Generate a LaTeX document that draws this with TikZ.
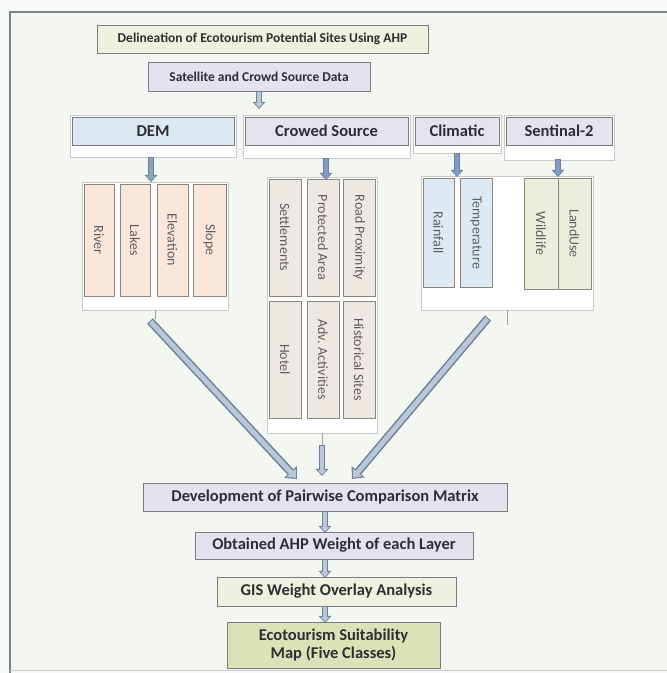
\documentclass[tikz,border=0pt]{standalone}
\usepackage{fontspec}
\setmainfont{Carlito}
\usetikzlibrary{arrows.meta}
\definecolor{outerbg}{HTML}{F7FAF9}
\definecolor{innerbg}{HTML}{F4F7F1}
\definecolor{framecol}{HTML}{7C8482}
\definecolor{boxedge}{HTML}{7A7A80}
\definecolor{txt}{HTML}{2E2E32}
\definecolor{titlefill}{HTML}{EEF1E0}
\definecolor{lav}{HTML}{E5E2EF}
\definecolor{demfill}{HTML}{DCE8F2}
\definecolor{hdrfill}{HTML}{E3E4F0}
\definecolor{ecofill}{HTML}{DCE2B8}
\definecolor{peach}{HTML}{FBE6DA}
\definecolor{beige}{HTML}{ECE9E3}
\definecolor{ltblue}{HTML}{DDEAF4}
\definecolor{ltgreen}{HTML}{ECEEDC}
\definecolor{childedge}{HTML}{8A857E}
\definecolor{childtxt}{HTML}{5E5E5E}
\definecolor{underedge}{HTML}{C8CAC8}
\definecolor{arredge}{HTML}{6C8098}
\definecolor{arrfill}{HTML}{B9C7D6}
\definecolor{arrsolid}{HTML}{8CA3BE}
\definecolor{arrblue}{HTML}{7E9CC6}
\tikzset{
  box/.style={draw=boxedge, line width=1pt, inner sep=0pt, text=txt,
    font=\bfseries\fontsize{16.5}{18}\selectfont},
  smallbox/.style={box, font=\bfseries\fontsize{13.5}{15}\selectfont},
  child/.style={draw=childedge, line width=1pt, inner sep=0pt, rotate=-90,
    text=childtxt, font=\fontsize{14}{15}\selectfont},
  under/.style={draw=underedge, fill=white, line width=0.7pt, inner sep=0pt},
  tickline/.style={draw=underedge!80!black, line width=0.7pt},
  barrow/.style={draw=arredge, line width=#1, -{Triangle[length=1.2*#1,width=2.1*#1]}},
  bigarrow/.style={barrow=8pt, postaction={draw=arrfill, line width=5pt,
    shorten >=1.6pt, shorten <=1pt, -{Triangle[length=7pt,width=12pt]}}},
  smallarrow/.style={barrow=6pt, postaction={draw=arrfill, line width=3.4pt,
    shorten >=1.4pt, shorten <=0.9pt, -{Triangle[length=4.6pt,width=8.6pt]}}},
  solidarrow/.style={barrow=6pt, postaction={draw=#1, line width=3.6pt,
    shorten >=1.2pt, shorten <=0.8pt, -{Triangle[length=5pt,width=9.2pt]}}}
}
\begin{document}
\begin{tikzpicture}[x=1pt,y=-1pt]
\useasboundingbox (0,0) rectangle (667,673);
\fill[outerbg] (0,0) rectangle (667,673);
\fill[innerbg] (10,12) rectangle (667,670);
\draw[framecol, line width=2pt] (10,673) -- (10,12) -- (667,12);
\draw[underedge, line width=0.8pt] (10,670) -- (667,670);

% top boxes
\node[smallbox, fill=titlefill, minimum width=331pt, minimum height=28pt] (title) at (262.5,39) {Delineation of Ecotourism Potential Sites Using AHP};
\node[smallbox, fill=lav, minimum width=222pt, minimum height=29pt] (sat) at (259,76.5) {Satellite and Crowd Source Data};
\coordinate (satend) at (259,109);
\draw[smallarrow] (sat.south) -- (satend);

% header underlays
\node[under, minimum width=166pt, minimum height=42pt] (demu) at (153,136) {};
\node[under, minimum width=167pt, minimum height=43pt] (crowdu) at (326.5,136.5) {};
\node[under, minimum width=88pt, minimum height=38pt] (climu) at (457,134) {};
\node[under, minimum width=110pt, minimum height=45pt] (sentu) at (559,137.5) {};
% headers
\node[box, fill=demfill, minimum width=162pt, minimum height=28pt] (dem) at (153,131) {DEM};
\node[box, fill=hdrfill, minimum width=163pt, minimum height=28pt] (crowd) at (326.5,131) {Crowed Source};
\node[box, fill=hdrfill, minimum width=84pt, minimum height=28pt] (clim) at (457,131) {Climatic};
\node[box, fill=hdrfill, minimum width=106pt, minimum height=28pt] (sent) at (559,131) {Sentinal-2};

% children underlays
\node[under, minimum width=146pt, minimum height=128pt] (demk) at (155,246) {};
\node[under, minimum width=110pt, minimum height=256pt] (crowdk) at (322,305) {};
\node[under, minimum width=172pt, minimum height=134pt] (csk) at (507,243) {};

% DEM children
\node[child, fill=peach, minimum width=112pt, minimum height=30pt] (river) at (99,240) {River};
\node[child, fill=peach, minimum width=112pt, minimum height=30pt] (lakes) at (135,240) {Lakes};
\node[child, fill=peach, minimum width=112pt, minimum height=31pt] (elev) at (172.5,240) {Elevation};
\node[child, fill=peach, minimum width=112pt, minimum height=33pt] (slope) at (209.5,240) {Slope};
% Crowd children
\node[child, fill=beige, minimum width=117pt, minimum height=32pt] (settl) at (285,237.5) {Settlements};
\node[child, fill=beige, minimum width=117pt, minimum height=32pt] (prot) at (323,237.5) {Protected Area};
\node[child, fill=beige, minimum width=117pt, minimum height=32pt] (road) at (359,237.5) {Road Proximity};
\node[child, fill=beige, minimum width=117pt, minimum height=32pt] (hotel) at (285,359.5) {Hotel};
\node[child, fill=beige, minimum width=117pt, minimum height=32pt] (adv) at (323,359.5) {Adv. Activities};
\node[child, fill=beige, minimum width=117pt, minimum height=32pt] (hist) at (359,359.5) {Historical Sites};
% Climatic children
\node[child, fill=ltblue, minimum width=109pt, minimum height=31pt] (rain) at (438.5,232.5) {Rainfall};
\node[child, fill=ltblue, minimum width=109pt, minimum height=32pt] (temp) at (476,232.5) {Temperature};
% Sentinel children
\node[child, fill=ltgreen, minimum width=111pt, minimum height=34pt] (wild) at (541,233.5) {Wildlife};
\node[child, fill=ltgreen, minimum width=111pt, minimum height=33pt] (land) at (574.5,233.5) {LandUse};

% arrows from headers to children
\coordinate (demA) at (151,157); \coordinate (demB) at (151,182);
\draw[solidarrow=arrsolid] (demA) -- (demB);
\coordinate (crA) at (326,158); \coordinate (crB) at (326,180);
\draw[solidarrow=arrblue] (crA) -- (crB);
\coordinate (clA) at (457,153); \coordinate (clB) at (457,177);
\draw[solidarrow=arrblue] (clA) -- (clB);
\coordinate (seA) at (558,159); \coordinate (seB) at (558,177);
\draw[solidarrow=arrblue] (seA) -- (seB);

% ticks
\coordinate (demtick) at (155,319);
\draw[tickline] (demk.south) -- (demtick);
\coordinate (crowdtick) at (322,445);
\draw[tickline] (crowdk.south) -- (crowdtick);
\coordinate (cstick) at (507,325);
\draw[tickline] (csk.south) -- (cstick);

% bottom boxes
\node[box, fill=lav, minimum width=364pt, minimum height=28pt] (dev) at (325,497) {Development of Pairwise Comparison Matrix};
\node[box, fill=lav, minimum width=278pt, minimum height=27pt] (obt) at (334,545.5) {Obtained AHP Weight of each Layer};
\node[box, fill=titlefill, minimum width=239pt, minimum height=29pt] (gis) at (336.5,591.5) {GIS Weight Overlay Analysis};
\node[box, fill=ecofill, minimum width=213pt, minimum height=46pt, align=center, font=\bfseries\fontsize{16.5}{18}\selectfont] (eco) at (333.5,645) {Ecotourism Suitability\\Map (Five Classes)};

% big arrows
\coordinate (lA) at (150,321); \coordinate (lB) at (297,479);
\draw[bigarrow] (lA) -- (lB);
\coordinate (rA) at (488,318); \coordinate (rB) at (352,479);
\draw[bigarrow] (rA) -- (rB);
\coordinate (mB) at (322,476);
\draw[smallarrow] (crowdtick) -- (mB);

% bottom small arrows
\coordinate (a1) at (325,511); \coordinate (a1e) at (325,533);
\draw[smallarrow] (a1) -- (a1e);
\coordinate (a2) at (325,559); \coordinate (a2e) at (325,578);
\draw[smallarrow] (a2) -- (a2e);
\coordinate (a3) at (325,606); \coordinate (a3e) at (325,623);
\draw[smallarrow] (a3) -- (a3e);
\end{tikzpicture}
\end{document}
